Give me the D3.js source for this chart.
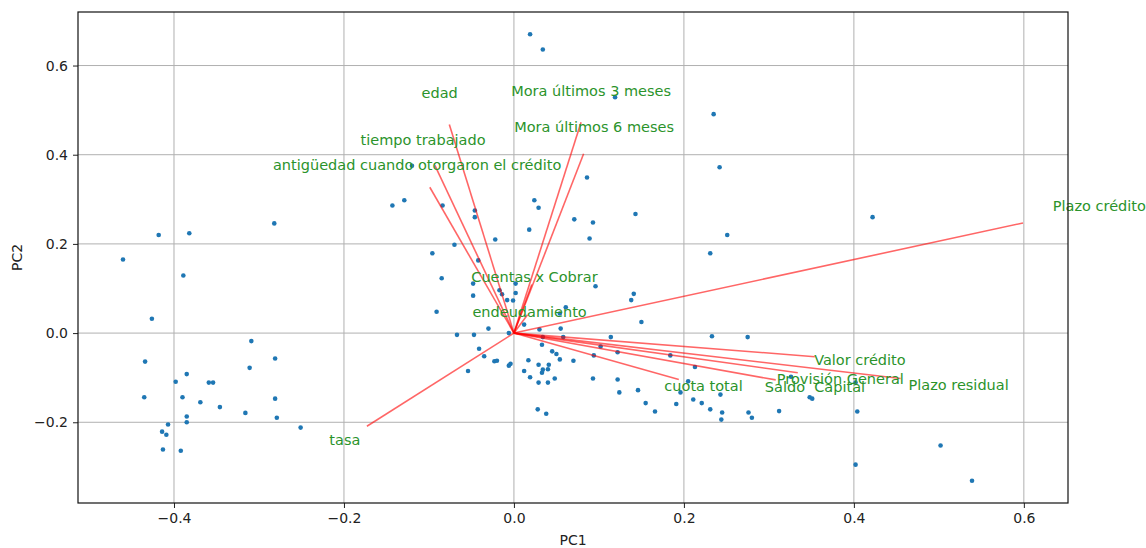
<!DOCTYPE html>
<html>
<head>
<meta charset="utf-8">
<script src="https://cdn.jsdelivr.net/npm/d3@7"></script>
<style>
  body { margin: 0; background: #fff; }
  text { font-family: "DejaVu Sans", sans-serif; }
</style>
</head>
<body>
<div id="chart"></div>
<script>
// scores (PC1, PC2) of each observation
var pc1 = [-0.460, -0.418, -0.382, -0.282, -0.389, -0.426, -0.309, -0.281, -0.434, -0.311,
  -0.398, -0.385, -0.359, -0.354, -0.435, -0.390, -0.369, -0.346, -0.281, -0.316,
  -0.385, -0.385, -0.279, -0.407, -0.414, -0.409, -0.251, -0.413, -0.392,
  -0.143, -0.129, -0.120, -0.084, -0.046, -0.046, 0.024, 0.029, 0.071, 0.093,
  0.143, 0.018, 0.089, -0.022, -0.070, -0.096, -0.042, -0.085, 0.019, 0.034,
  0.119, 0.235, 0.242, 0.086, 0.251, 0.231, 0.422,
  -0.048, 0.002, 0.096, -0.048, -0.017, -0.014, -0.008, -0.001, 0.002, 0.141,
  0.138, -0.091, 0.061, 0.054, 0.150, -0.030, 0.012, -0.067, -0.047, -0.006,
  0.030, 0.055, 0.034, 0.058, 0.114, 0.233, 0.275, 0.102, 0.033, -0.041,
  0.045, 0.050, 0.094, 0.122, 0.184, -0.035, -0.023, -0.020, 0.017, 0.054,
  0.070, -0.006, -0.004, -0.054, 0.029, 0.034, 0.033, 0.041, 0.040, 0.012,
  0.213, 0.019, 0.048, 0.093, 0.122, 0.029, 0.040, 0.205, 0.196, 0.124,
  0.146, 0.243, 0.211, 0.221, 0.155, 0.191, 0.231, 0.166, 0.245, 0.244,
  0.276, 0.280, 0.312, 0.028, 0.038, 0.348, 0.351, 0.404, 0.402, 0.502,
  0.539, 0.402, 0.326];
var pc2 = [0.165, 0.220, 0.224, 0.246, 0.129, 0.032, -0.018, -0.057, -0.064, -0.078,
  -0.109, -0.092, -0.111, -0.111, -0.144, -0.144, -0.155, -0.166, -0.147, -0.179,
  -0.187, -0.200, -0.190, -0.205, -0.221, -0.228, -0.212, -0.261, -0.264,
  0.286, 0.298, 0.375, 0.286, 0.275, 0.260, 0.298, 0.281, 0.255, 0.248,
  0.267, 0.232, 0.212, 0.210, 0.198, 0.179, 0.163, 0.123, 0.670, 0.636,
  0.529, 0.491, 0.372, 0.349, 0.220, 0.179, 0.260,
  0.111, 0.111, 0.105, 0.084, 0.096, 0.087, 0.074, 0.073, 0.090, 0.088,
  0.074, 0.048, 0.058, 0.044, 0.025, 0.010, 0.019, -0.004, -0.004, 0.000,
  0.008, 0.010, -0.009, -0.009, -0.009, -0.007, -0.009, -0.030, -0.026, -0.035,
  -0.041, -0.047, -0.050, -0.043, -0.050, -0.052, -0.063, -0.062, -0.061, -0.059,
  -0.062, -0.073, -0.069, -0.085, -0.071, -0.082, -0.089, -0.071, -0.081, -0.085,
  -0.076, -0.099, -0.102, -0.102, -0.104, -0.111, -0.111, -0.108, -0.133, -0.133,
  -0.128, -0.138, -0.149, -0.157, -0.157, -0.159, -0.171, -0.176, -0.178, -0.194,
  -0.178, -0.190, -0.175, -0.171, -0.181, -0.144, -0.147, -0.176, -0.295, -0.252,
  -0.331, -0.111, -0.098];

// loadings of each variable
var variables = ['Plazo crédito', 'edad', 'tiempo trabajado',
  'antigüedad cuando otorgaron el crédito', 'Mora últimos 3 meses',
  'Mora últimos 6 meses', 'Cuentas x Cobrar', 'endeudamiento', 'tasa',
  'cuota total', 'Saldo  Capital', 'Provisión General', 'Valor crédito',
  'Plazo residual'];
var load1 = [0.599, -0.076, -0.093, -0.099, 0.079, 0.082, 0.021, 0.016, -0.173,
  0.194, 0.308, 0.334, 0.354, 0.455];
var load2 = [0.247, 0.468, 0.376, 0.327, 0.473, 0.402, 0.109, 0.041, -0.209,
  -0.104, -0.105, -0.089, -0.053, -0.102];

var xTicks = [-0.4, -0.2, 0.0, 0.2, 0.4, 0.6];
var yTicks = [-0.2, 0.0, 0.2, 0.4, 0.6];

var W = 1146, H = 548;
var margin = { top: 12, right: 78, bottom: 45, left: 78 };
var w = W - margin.left - margin.right,
  h = H - margin.top - margin.bottom;

// domain like matplotlib autoscale: points + arrows, 5% padding
function padded(arr) {
  var lo = d3.min(arr), hi = d3.max(arr), p = (hi - lo) * 0.05;
  return [lo - p, hi + p];
}
var x = d3.scaleLinear().domain(padded(pc1.concat(load1, [0]))).range([0, w]);
var y = d3.scaleLinear().domain(padded(pc2.concat(load2, [0]))).range([h, 0]);

var svg = d3.select('#chart').append('svg')
  .attr('width', W).attr('height', H);
var g = svg.append('g')
  .attr('transform', 'translate(' + margin.left + ',' + margin.top + ')');

// grid
g.append('g').selectAll('line').data(xTicks).enter().append('line')
  .attr('x1', function(d) { return x(d); }).attr('x2', function(d) { return x(d); })
  .attr('y1', 0).attr('y2', h)
  .attr('stroke', '#b0b0b0').attr('stroke-width', 1);
g.append('g').selectAll('line').data(yTicks).enter().append('line')
  .attr('y1', function(d) { return y(d); }).attr('y2', function(d) { return y(d); })
  .attr('x1', 0).attr('x2', w)
  .attr('stroke', '#b0b0b0').attr('stroke-width', 1);

// points
g.append('g').selectAll('circle').data(pc1).enter().append('circle')
  .attr('cx', function(d) { return x(d); })
  .attr('cy', function(d, i) { return y(pc2[i]); })
  .attr('r', 2.3)
  .attr('fill', '#1f77b4');

// arrows
g.append('g').selectAll('line').data(variables).enter().append('line')
  .attr('x1', x(0)).attr('y1', y(0))
  .attr('x2', function(d, i) { return x(load1[i]); })
  .attr('y2', function(d, i) { return y(load2[i]); })
  .attr('stroke', '#ff0000').attr('stroke-opacity', 0.6)
  .attr('stroke-width', 1.6);

// labels at 1.15 * loading
g.append('g').selectAll('text').data(variables).enter().append('text')
  .attr('x', function(d, i) { return x(load1[i] * 1.15); })
  .attr('y', function(d, i) { return y(load2[i] * 1.15); })
  .attr('text-anchor', 'middle')
  .attr('dominant-baseline', 'central')
  .attr('fill', '#2b932b')
  .style('font-size', '14.5px')
  .style('white-space', 'pre')
  .text(function(d) { return d; });

// axes
var xAxis = g.append('g').attr('transform', 'translate(0,' + h + ')')
  .call(d3.axisBottom(x).tickValues(xTicks).tickFormat(d3.format('.1f')).tickSizeOuter(0).tickSize(5).tickPadding(5));
var yAxis = g.append('g')
  .call(d3.axisLeft(y).tickValues(yTicks).tickFormat(d3.format('.1f')).tickSizeOuter(0).tickSize(5).tickPadding(5));
[xAxis, yAxis].forEach(function(a) {
  a.select('.domain').remove();
  a.selectAll('text').style('font-size', '14px').attr('fill', '#222')
    .style('font-family', '"DejaVu Sans", sans-serif');
  a.selectAll('line').attr('stroke', '#222');
});

// frame
g.append('rect').attr('width', w).attr('height', h)
  .attr('fill', 'none').attr('stroke', '#111').attr('stroke-width', 1.2);

// axis titles
svg.append('text')
  .attr('x', margin.left + w / 2).attr('y', H - 3)
  .attr('text-anchor', 'middle').attr('fill', '#222')
  .style('font-size', '14px').text('PC1');
svg.append('text')
  .attr('transform', 'translate(22,' + (margin.top + h / 2) + ') rotate(-90)')
  .attr('text-anchor', 'middle').attr('fill', '#222')
  .style('font-size', '14px').text('PC2');
</script>
</body>
</html>
